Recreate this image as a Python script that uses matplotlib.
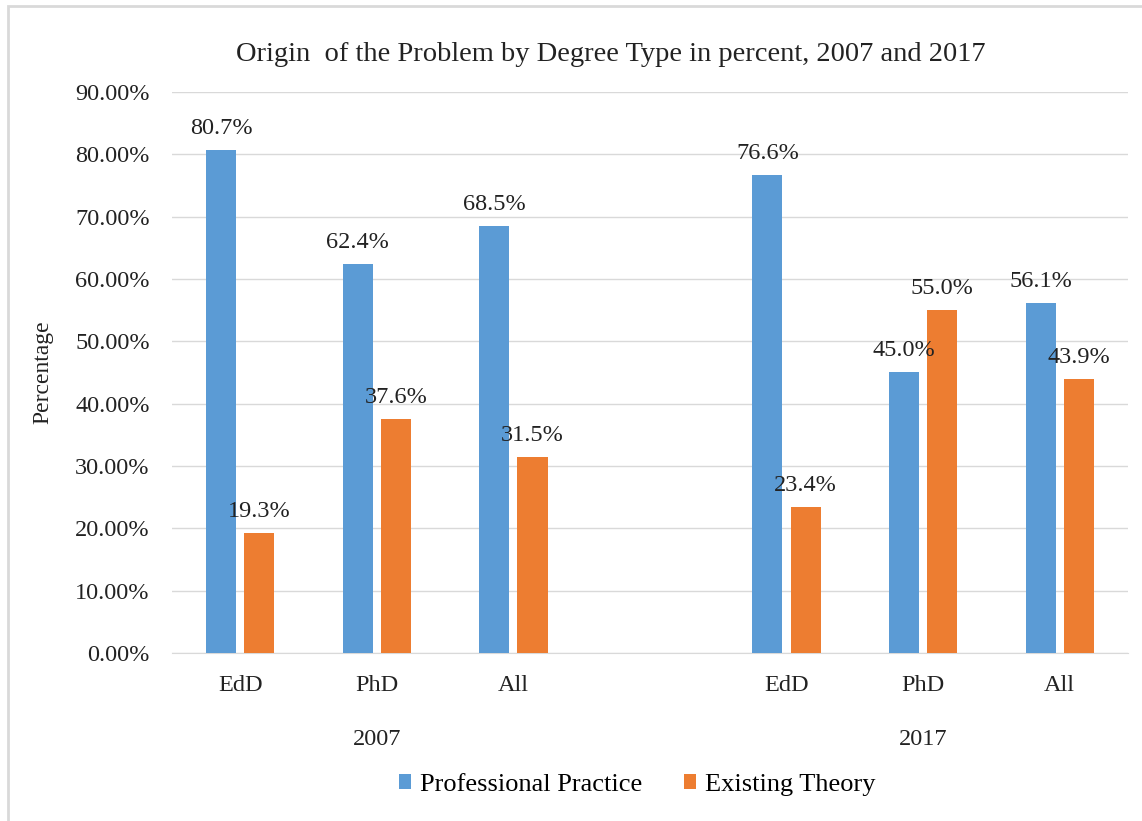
import matplotlib.pyplot as plt
from matplotlib.patches import Rectangle
import numpy as np

plt.rcParams['font.family'] = ['Liberation Serif', 'DejaVu Serif']

# Data
years = ['2007', '2017']
degrees = ['EdD', 'PhD', 'All']
practice = [80.7, 62.4, 68.5, 76.6, 45.0, 56.1]
theory = [19.3, 37.6, 31.5, 23.4, 55.0, 43.9]
series_names = ['Professional Practice', 'Existing Theory']
colors = ['#5b9bd5', '#ed7d31']

# 7 slots: 3 for 2007, one empty, 3 for 2017
slots = np.array([0, 1, 2, 4, 5, 6])

fig = plt.figure(figsize=(11.42, 8.21), dpi=100)
ax = fig.add_axes([0.1506, 0.2046, 0.8371, 0.6834])

width = 0.22
gap = 0.06
off = (width + gap) / 2
b1 = ax.bar(slots - off, practice, width, color=colors[0], label=series_names[0], zorder=3)
b2 = ax.bar(slots + off, theory, width, color=colors[1], label=series_names[1], zorder=3)

txt = '#222222'
for bars, vals in ((b1, practice), (b2, theory)):
    for rect, v in zip(bars, vals):
        ax.annotate(f'{v:.1f}%', (rect.get_x() + rect.get_width() / 2, v),
                    xytext=(0, 8), textcoords='offset points',
                    ha='center', va='bottom', fontsize=17.5, color=txt)

ax.set_xlim(-0.5, 6.5)
ax.set_ylim(0, 90)
ax.set_yticks(np.arange(0, 91, 10))
ax.set_yticklabels([f'{t:.2f}%' for t in np.arange(0, 91, 10)], fontsize=17.5, color=txt)
ax.set_xticks(slots)
ax.set_xticklabels(degrees * 2, fontsize=17.5, color=txt)
ax.tick_params(axis='y', length=0, pad=16)
ax.tick_params(axis='x', length=0, pad=16)
ax.grid(axis='y', color='#d9d9d9', linewidth=1, zorder=0)
for s in ('top', 'right', 'left'):
    ax.spines[s].set_visible(False)
ax.spines['bottom'].set_color('#d9d9d9')

# year group labels under the degree labels
for i, yr in enumerate(years):
    ax.text(slots[i * 3 + 1], -0.155, yr, transform=ax.get_xaxis_transform(),
            ha='center', va='center', fontsize=17.5, color=txt)

ax.set_ylabel('Percentage', fontsize=17, color=txt, labelpad=16)
fig.text(0.535, 0.934, 'Origin  of the Problem by Degree Type in percent, 2007 and 2017',
         ha='center', va='center', fontsize=20.5, color=txt)

fig.legend(handles=[b1, b2], loc='center', bbox_to_anchor=(0.558, 0.044), ncol=2,
           frameon=False, fontsize=19, handlelength=0.45, handleheight=0.45,
           handletextpad=0.35, columnspacing=1.6)

fig.patches.append(Rectangle((0.007, -0.05), 1.0, 1.043, transform=fig.transFigure,
                             fill=False, edgecolor='#d9d9d9', linewidth=2))

fig.savefig('out.png', dpi=100)
